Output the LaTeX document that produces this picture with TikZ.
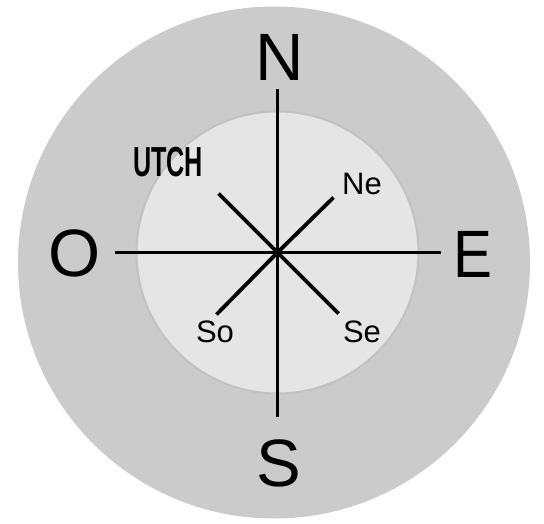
\documentclass[tikz,border=0pt]{standalone}
\usepackage{fontspec}
\setmainfont{Liberation Sans}
\usetikzlibrary{calc}
\definecolor{rimgray}{HTML}{CBCBCB}
\definecolor{facegray}{HTML}{E5E5E5}
\definecolor{edgegray}{HTML}{C2C2C2}
\tikzset{
  bigdir/.style={font=\fontsize{67}{67}\selectfont},
  smalldir/.style={font=\fontsize{31}{31}\selectfont},
  needle/.style={line width=3.8pt,black},
}

\begin{document}
\begin{tikzpicture}[x=1pt,y=-1pt,every node/.style={inner sep=0pt}]
  \useasboundingbox (0,0) rectangle (544,524);
  % dial
  \fill[rimgray] (274,262.5) circle[radius=256];
  \draw[fill=facegray,draw=edgegray,line width=2pt] (277.5,252.5) circle[radius=141];
  \coordinate (C) at (277.5,252.5);
  \def\rl{163}
  \coordinate (n) at ($(C)+(0,-\rl)$);
  \coordinate (s) at ($(C)+(0,\rl+1)$);
  \coordinate (e) at ($(C)+(\rl,0)$);
  \coordinate (w) at ($(C)+(-\rl,0)$);
  \coordinate (ne) at ($(C)+(56,-55)$);
  \coordinate (nw) at ($(C)+(-59,-59)$);
  \coordinate (se) at ($(C)+(61,61)$);
  \coordinate (sw) at ($(C)+(-61,62)$);
  \foreach \p in {n,s,e,w,ne,nw,se,sw} {
    \draw[needle] (C) -- (\p);
  }
  % labels
  \node[bigdir] (lbN) at (279.5,57) {N};
  \node[bigdir] (lbS) at (279,463) {S};
  \node[bigdir] (lbE) at (473,254.5) {\scalebox{0.87}[1]{E}};
  \node[bigdir] (lbO) at (75,253) {O};
  \node[smalldir] (lbNe) at (362,184) {Ne};
  \node[smalldir] (lbSe) at (362,332) {Se};
  \node[smalldir] (lbSo) at (215,332) {So};
  \node[font=\fontsize{42}{42}\selectfont\bfseries] (lbU) at (168,162) {\scalebox{0.6}[1]{UTCH}};
\end{tikzpicture}
\end{document}
